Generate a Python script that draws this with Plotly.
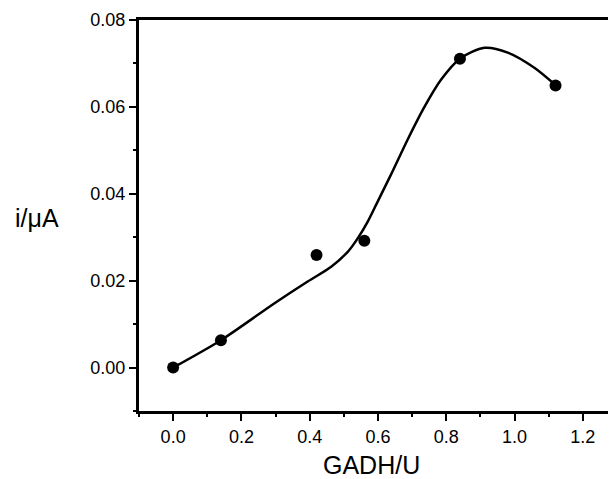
import plotly.graph_objects as go

# measured points
gadh = [0.0, 0.14, 0.42, 0.56, 0.84, 1.12]
current = [0.0, 0.0063, 0.0259, 0.0292, 0.0711, 0.0649]

# fitted curve
fit_x = [0.0, 0.14, 0.297, 0.394, 0.463, 0.512, 0.541, 0.570, 0.599, 0.638, 0.687, 0.736, 0.785, 0.84, 0.912, 0.98, 1.058, 1.12]
fit_y = [0.0, 0.0063, 0.0148, 0.0198, 0.0232, 0.0267, 0.0298, 0.0336, 0.0382, 0.0444, 0.0525, 0.0600, 0.0663, 0.0711, 0.0736, 0.0725, 0.0690, 0.0650]

x_ticks = [0.0, 0.2, 0.4, 0.6, 0.8, 1.0, 1.2]
x_tick_labels = ["0.0", "0.2", "0.4", "0.6", "0.8", "1.0", "1.2"]
y_ticks = [0.0, 0.02, 0.04, 0.06, 0.08]
y_tick_labels = ["0.00", "0.02", "0.04", "0.06", "0.08"]

FONT = "Arial, Liberation Sans, sans-serif"

fig = go.Figure()
fig.add_trace(go.Scatter(x=fit_x, y=fit_y, mode="lines",
                         line=dict(color="black", width=2.5, shape="spline", smoothing=0.8),
                         hoverinfo="skip", showlegend=False))
fig.add_trace(go.Scatter(x=gadh, y=current, mode="markers",
                         marker=dict(color="black", size=12),
                         showlegend=False))

fig.update_layout(
    width=609, height=472,
    margin=dict(l=131, r=0, t=12, b=69),
    paper_bgcolor="white", plot_bgcolor="white",
    font=dict(family=FONT, color="black", size=18),
    showlegend=False,
    xaxis=dict(range=[-0.1, 1.3], showgrid=False, zeroline=False,
               showline=True, linecolor="black", linewidth=3, mirror=True,
               ticks="outside", ticklen=7, tickwidth=2, tickcolor="black",
               tickvals=x_ticks, ticktext=x_tick_labels,
               tickfont=dict(size=18, family=FONT),
               minor=dict(dtick=0.1, tick0=0, ticks="outside", ticklen=3, tickwidth=2, tickcolor="black")),
    yaxis=dict(range=[-0.01, 0.08], showgrid=False, zeroline=False,
               showline=True, linecolor="black", linewidth=3,
               ticks="outside", ticklen=7, tickwidth=2, tickcolor="black",
               tickvals=y_ticks, ticktext=y_tick_labels,
               tickfont=dict(size=18, family=FONT),
               minor=dict(dtick=0.01, tick0=0, ticks="outside", ticklen=3, tickwidth=2, tickcolor="black")),
    annotations=[
        dict(text="GADH/U", xref="paper", yref="paper", x=(370 - 138) / 478, y=-(464 - 410) / 391,
             xanchor="center", yanchor="middle", showarrow=False, font=dict(size=25, family=FONT)),
        dict(text="i/\u03bcA", xref="paper", yref="paper", x=-(138 - 36) / 478, y=(410 - 217) / 391,
             xanchor="center", yanchor="middle", showarrow=False, font=dict(size=25, family=FONT)),
    ],
)

fig.write_html("out.html")
